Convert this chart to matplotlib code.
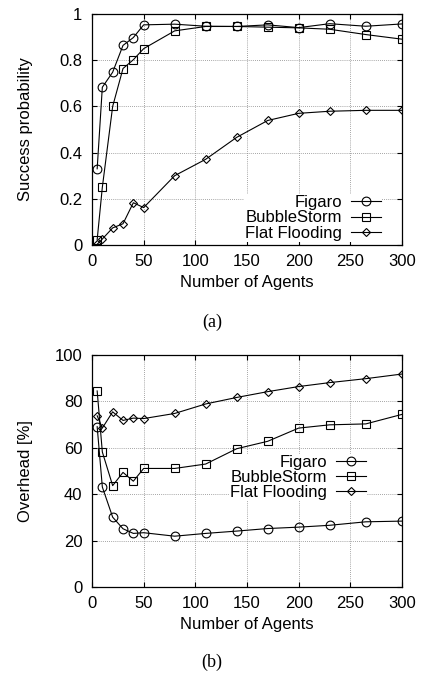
import numpy as np
import matplotlib
matplotlib.use('Agg')
import matplotlib.pyplot as plt

plt.rcParams['font.family'] = ['Liberation Sans', 'DejaVu Sans']
plt.rcParams['font.size'] = 12

# number of agents (same for all series)
agents = [5, 10, 20, 30, 40, 50, 80, 110, 140, 170, 200, 230, 265, 300]

# (a) success probability
succ_figaro = [0.33, 0.683, 0.748, 0.864, 0.898, 0.953, 0.956, 0.947, 0.946, 0.953, 0.941, 0.958, 0.947, 0.957]
succ_bubble = [0.023, 0.25, 0.60, 0.764, 0.802, 0.85, 0.927, 0.946, 0.946, 0.943, 0.94, 0.934, 0.911, 0.891]
succ_flat = [0.003, 0.026, 0.074, 0.092, 0.183, 0.162, 0.30, 0.371, 0.466, 0.539, 0.570, 0.579, 0.583, 0.583]

# (b) overhead in percent
ovh_figaro = [69.1, 43.1, 30.1, 25.1, 23.1, 23.4, 21.9, 23.1, 24.1, 25.2, 25.8, 26.6, 28.1, 28.4]
ovh_bubble = [84.5, 58.2, 43.7, 49.4, 45.6, 51.1, 51.1, 53.0, 59.6, 62.8, 68.5, 69.9, 70.3, 74.4]
ovh_flat = [73.8, 68.5, 75.5, 71.8, 72.8, 72.6, 74.8, 78.9, 81.7, 84.2, 86.4, 88.1, 89.8, 91.8]

labels = ['Figaro', 'BubbleStorm', 'Flat Flooding']
markers = ['o', 's', 'D']
msizes = [6.3, 5.8, 4.0]

W, H = 422, 674
fig = plt.figure(figsize=(W / 100, H / 100), dpi=100)


def px_axes(left, top, right, bottom):
    return fig.add_axes([left / W, 1 - bottom / H, (right - left) / W, (bottom - top) / H])


def style(ax, ylim, yticks, yticklabels, ylabel):
    ax.set_xlim(0, 300)
    ax.set_ylim(*ylim)
    ax.set_xticks(np.arange(0, 301, 50))
    ax.set_yticks(yticks)
    ax.set_yticklabels(yticklabels)
    ax.tick_params(direction='in', top=True, right=True, length=3.5, width=0.8)
    ax.tick_params(axis='x', pad=6.5)
    ax.tick_params(axis='y', pad=7)
    ax.grid(True, color='#888888', linestyle=(0, (1, 1.5)), linewidth=0.6)
    ax.set_axisbelow(True)
    for s in ax.spines.values():
        s.set_linewidth(0.9)
    ax.set_xlabel('Number of Agents', labelpad=4.5)
    ax.set_ylabel(ylabel)
    ax.yaxis.set_label_coords(-0.19, 0.5)


def draw(ax, series, anchor):
    for ys, lab, m, ms in zip(series, labels, markers, msizes):
        ax.plot(agents, ys, color='black', linewidth=0.8, marker=m, markersize=ms,
                markerfacecolor='none', markeredgecolor='black', markeredgewidth=0.8,
                label=lab)
    leg = ax.legend(loc='lower right', bbox_to_anchor=anchor, markerfirst=False,
                    frameon=True, fancybox=False, framealpha=1, edgecolor='none',
                    borderpad=0.05, borderaxespad=0, labelspacing=0.02,
                    handlelength=1.8, handletextpad=0.55, fontsize=12)
    leg.get_frame().set_linewidth(0)


ax1 = px_axes(92, 14, 402, 245)
style(ax1, (0, 1), np.arange(0, 1.01, 0.2), ['0', '0.2', '0.4', '0.6', '0.8', '1'],
      'Success probability')
draw(ax1, [succ_figaro, succ_bubble, succ_flat], (0.935, 0.015))
fig.text(212 / W, 1 - 322 / H, '(a)', ha='center', va='center',
         family=['Liberation Serif', 'DejaVu Serif'], fontsize=13)

ax2 = px_axes(92, 355, 402, 587)
style(ax2, (0, 100), np.arange(0, 101, 20), [str(v) for v in range(0, 101, 20)],
      'Overhead [%]')
draw(ax2, [ovh_figaro, ovh_bubble, ovh_flat], (0.887, 0.37))
fig.text(212 / W, 1 - 662 / H, '(b)', ha='center', va='center',
         family=['Liberation Serif', 'DejaVu Serif'], fontsize=13)

fig.savefig('out.png', dpi=100)
